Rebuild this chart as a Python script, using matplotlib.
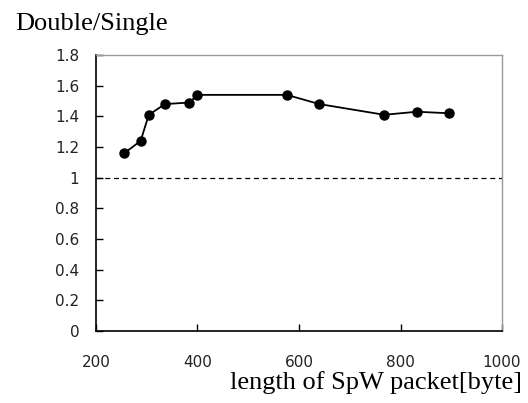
import matplotlib
matplotlib.use("Agg")
import matplotlib.pyplot as plt

# packet length vs double/single ratio
packet_len = [256, 288, 304, 336, 384, 400, 576, 640, 768, 832, 896]
ratio = [1.16, 1.24, 1.41, 1.48, 1.49, 1.54, 1.54, 1.48, 1.41, 1.43, 1.42]
x_ticks = [200, 400, 600, 800, 1000]
y_ticks = [0, 0.2, 0.4, 0.6, 0.8, 1, 1.2, 1.4, 1.6, 1.8]
y_tick_labels = ["0", "0.2", "0.4", "0.6", "0.8", "1", "1.2", "1.4", "1.6", "1.8"]

fig = plt.figure(figsize=(5.28, 4.03), dpi=100)
ax = fig.add_axes([0.1818, 0.1787, 0.769, 0.6848])

ax.axhline(1.0, color="black", linestyle=(0, (4, 3)), linewidth=0.9)
ax.plot(packet_len, ratio, color="black", linewidth=1.3, marker="o", markersize=6.5)

ax.set_xlim(200, 1000)
ax.set_ylim(0, 1.8)
ax.set_xticks(x_ticks)
ax.set_yticks(y_ticks)
ax.set_yticklabels(y_tick_labels)
ax.tick_params(direction="in", length=5, width=1, labelsize=11, colors="black",
               labelcolor="#222222")
ax.tick_params(axis="x", pad=17)
ax.tick_params(axis="y", pad=12)

for s in ["left", "bottom"]:
    ax.spines[s].set_color("black")
    ax.spines[s].set_linewidth(1.2)
for s in ["top", "right"]:
    ax.spines[s].set_color("#999999")
    ax.spines[s].set_linewidth(1.0)

fig.text(0.028, 0.913, "Double/Single", family="Liberation Serif", fontsize=19,
         va="bottom", ha="left")
fig.text(0.988, 0.022, "length of SpW packet[byte]", family="Liberation Serif",
         fontsize=19, va="bottom", ha="right")

fig.savefig("out.png", dpi=100)
